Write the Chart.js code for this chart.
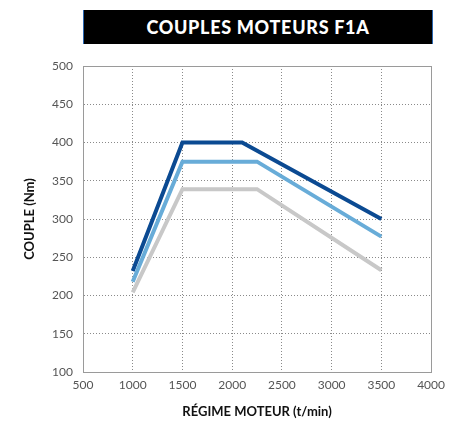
<!DOCTYPE html>
<html><head><meta charset="utf-8">
<script src="https://cdn.jsdelivr.net/npm/chart.js@4"></script>
<style>
html,body{margin:0;padding:0;background:#fff;}
#wrap{position:relative;width:451px;height:421px;}
#title{position:absolute;left:83px;top:10px;width:348px;height:34px;background:#000;border-left:1px solid #2a66b0;border-right:1px solid #2a66b0;color:#fff;font:900 18px Lato,"Open Sans",sans-serif;line-height:34px;text-align:center;letter-spacing:0.7px;}
canvas{position:absolute;left:0;top:0;}
</style></head><body>
<div id="wrap"><div id="title">COUPLES MOTEURS F1A</div><canvas id="c" width="451" height="421"></canvas></div>
<script>
const titleText = "COUPLES MOTEURS F1A";
const xTitle = "RÉGIME MOTEUR (t/min)";
const yTitle = "COUPLE (Nm)";
const rpmDark = [1000, 1500, 2100, 3500];
const torqueDark = [232, 400, 400, 300];
const rpmMid = [1000, 1500, 2250, 3500];
const torqueMid = [218, 375, 375, 277];
const rpmGrey = [1000, 1500, 2250, 3500];
const torqueGrey = [204, 339, 339, 233];
const xTicks = [500, 1000, 1500, 2000, 2500, 3000, 3500, 4000];
const yTicks = [100, 150, 200, 250, 300, 350, 400, 450, 500];

const pts = (xs, ys) => xs.map((x, i) => ({x, y: ys[i]}));
const boxPlugin = {
  id: 'box',
  afterDatasetsDraw(chart) {
    const {ctx, chartArea: a} = chart;
    ctx.save();
    ctx.strokeStyle = '#9a9a9a';
    ctx.lineWidth = 1;
    ctx.setLineDash([]);
    ctx.strokeRect(Math.round(a.left) + 0.5, Math.round(a.top) + 0.5, Math.round(a.right - a.left), Math.round(a.bottom - a.top));
    ctx.restore();
  }
};
const tickFont = {family: 'Lato, "Open Sans", sans-serif', size: 12};
const titleFont = {family: 'Lato, "Open Sans", sans-serif', size: 13, weight: 'bold'};
const ds = (data, color) => ({data, borderColor: color, backgroundColor: color, borderWidth: 4, pointRadius: 0, fill: false, tension: 0, borderJoinStyle: 'miter', borderCapStyle: 'butt'});
new Chart(document.getElementById('c'), {
  type: 'line',
  data: {datasets: [
    ds(pts(rpmGrey, torqueGrey), '#c8c8c8'),
    ds(pts(rpmMid, torqueMid), '#68acd8'),
    ds(pts(rpmDark, torqueDark), '#0b4a92')
  ]},
  options: {
    responsive: false, animation: false,
    layout: {padding: {top: 66, right: 18, left: 0, bottom: 0}},
    plugins: {legend: {display: false}, tooltip: {enabled: false}, title: {display: false}},
    scales: {
      x: {type: 'linear', min: 500, max: 4000,
        afterBuildTicks: s => { s.ticks = xTicks.map(v => ({value: v})); },
        afterFit: s => { s.height = 49; },
        grid: {color: '#8a8a8a', drawTicks: false},
        border: {display: true, color: '#9a9a9a', dash: [1, 2]},
        ticks: {font: tickFont, color: '#555', padding: 6, maxRotation: 0, callback: v => String(v)},
        title: {display: true, text: xTitle, font: titleFont, color: '#111', padding: {top: 0, bottom: 1}}
      },
      y: {min: 100, max: 500,
        afterBuildTicks: s => { s.ticks = yTicks.map(v => ({value: v})); },
        afterFit: s => { s.width = 83; },
        grid: {color: '#8a8a8a', drawTicks: false},
        border: {display: true, color: '#9a9a9a', dash: [1, 2]},
        ticks: {font: tickFont, color: '#555', padding: 10, callback: v => String(v)},
        title: {display: true, text: yTitle, font: titleFont, color: '#111', padding: {top: 22, bottom: 0}}
      }
    }
  },
  plugins: [boxPlugin]
});
</script>
</body></html>
